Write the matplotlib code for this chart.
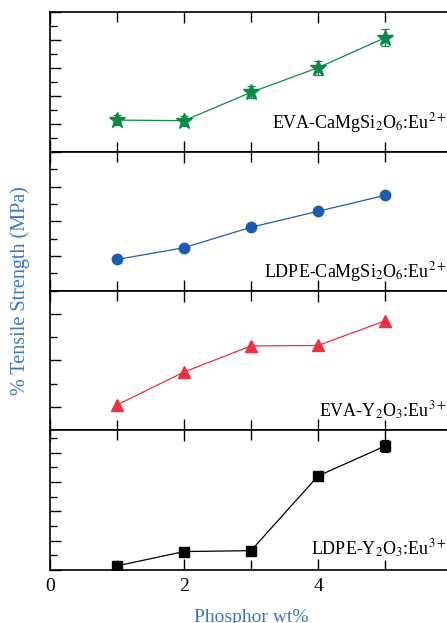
import numpy as np
import matplotlib
matplotlib.use('Agg')
import matplotlib.pyplot as plt
from matplotlib.ticker import MultipleLocator, FixedLocator

plt.rcParams['font.family'] = ['Liberation Serif', 'DejaVu Serif']
plt.rcParams['mathtext.fontset'] = 'stix'

wt = [1, 2, 3, 4, 5]

eva_ca = [2.14, 2.12, 3.13, 4.01, 5.08]
eva_ca_err = [0.18, 0.18, 0.21, 0.25, 0.30]
ldpe_ca = [0.90, 1.24, 1.83, 2.29, 2.75]
eva_y = [1.04, 1.75, 2.31, 2.32, 2.85]
ldpe_y = [0.14, 0.63, 0.66, 3.21, 4.23]
ldpe_y_err = [0.05, 0.05, 0.06, 0.10, 0.20]

labels = ['EVA-CaMgSi$_2$O$_6$:Eu$^{2+}$',
          'LDPE-CaMgSi$_2$O$_6$:Eu$^{2+}$',
          'EVA-Y$_2$O$_3$:Eu$^{3+}$',
          'LDPE-Y$_2$O$_3$:Eu$^{3+}$']

W, H = 447, 623
fig = plt.figure(figsize=(W / 100, H / 100), dpi=100)

# panel frames in pixels: (top, bottom)
frames = [(12, 152), (152, 290.7), (290.7, 430), (430, 570)]
ylims = [(1, 6), (0, 4), (0.5, 3.5), (0, 4.78)]
txt_y = [0.17, 0.097, 0.095, 0.107]

styles = [
    dict(color='#0b8a45', marker='*', ms=12),
    dict(color='#1c5cb0', marker='o', ms=7.5),
    dict(color='#ee3040', marker='^', ms=8.5),
    dict(color='black', marker='s', ms=7),
]
series = [(eva_ca, eva_ca_err), (ldpe_ca, None), (eva_y, None), (ldpe_y, ldpe_y_err)]

x0 = 50
xw = 402
axes = []
for i, ((top, bot), (vals, err)) in enumerate(zip(frames, series)):
    ax = fig.add_axes([x0 / W, (H - bot) / H, xw / W, (bot - top) / H])
    st = styles[i]
    ax.errorbar(wt, vals, yerr=err, color=st['color'], marker=st['marker'],
                ms=st['ms'], lw=0.9, capsize=3, elinewidth=0.9, capthick=0.9,
                mec=st['color'])
    ax.set_xlim(0, 6)
    ax.set_ylim(*ylims[i])
    ax.xaxis.set_major_locator(FixedLocator([0, 2, 4]))
    ax.xaxis.set_minor_locator(FixedLocator([1, 3, 5]))
    ax.yaxis.set_major_locator(MultipleLocator(1))
    ax.yaxis.set_minor_locator(MultipleLocator(0.5))
    ax.tick_params(which='both', direction='in', top=True, bottom=True, left=True,
                   right=False, labelleft=False, labelbottom=(i == 3), labelsize=14,
                   width=1.0, pad=6)
    ax.tick_params(which='major', length=8)
    ax.tick_params(which='minor', length=5)
    ax.tick_params(axis='x', which='minor', length=7)
    for s in ax.spines.values():
        s.set_linewidth(1.2)
    ax.text(5.92, txt_y[i], labels[i], transform=ax.get_xaxis_transform(),
            ha='right', va='baseline', fontsize=13)
    axes.append(ax)

axes[3].set_xlabel('Phosphor wt%', fontsize=14, color='#3a76c4', labelpad=10)
fig.text(20 / W, (H - 291) / H, '% Tensile Strength (MPa)', rotation=90,
         ha='center', va='center', fontsize=14.5, color='#3a76c4')

fig.savefig('out.png', dpi=100)
